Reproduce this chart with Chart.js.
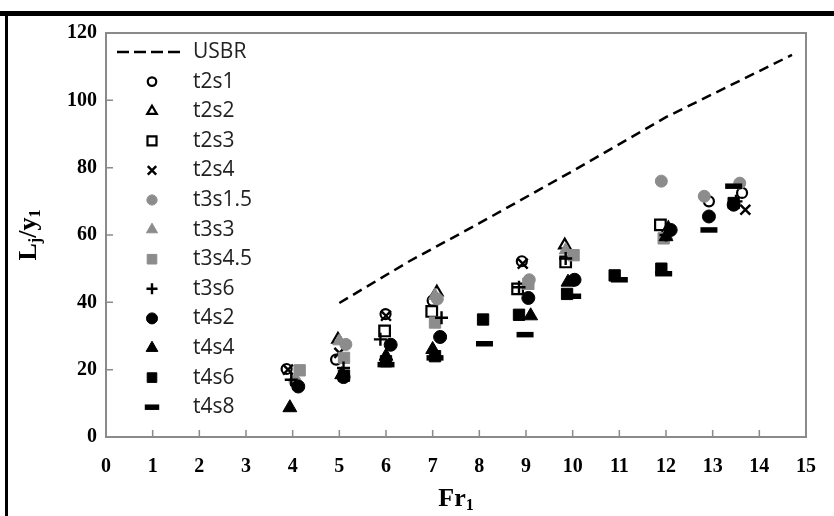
<!DOCTYPE html>
<html>
<head>
<meta charset="utf-8">
<title>Lj/y1 vs Fr1</title>
<script src="https://cdn.jsdelivr.net/npm/chart.js@4.4.0/dist/chart.umd.min.js"></script>
<style>
    html, body { margin: 0; padding: 0; background: #fff; }
    #wrap { position: relative; width: 834px; height: 516px; }
    #frameTop { position: absolute; left: 0; top: 11px; width: 834px; height: 5px; background: #000; }
    #frameLeft { position: absolute; left: 5px; top: 11px; width: 3px; height: 505px; background: #000; }
</style>
</head>
<body>
<div id="wrap">
    <canvas id="chart" width="834" height="516"></canvas>
    <div id="frameTop"></div>
    <div id="frameLeft"></div>
</div>
<script>
// Data
const usbrFr = [5.0, 6.5, 8.0, 10.0, 12.0, 14.7];
const usbrL  = [39.8, 52.2, 63.5, 79.0, 95.0, 113.5];

const t2s1Fr = [3.87, 4.93, 5.99, 7.0, 8.91, 12.92, 13.63];
const t2s1L  = [20.2, 23.0, 36.5, 40.5, 52.2, 70.0, 72.5];
const t2s2Fr = [4.97, 7.09, 9.83, 12.05];
const t2s2L  = [29.0, 43.0, 57.0, 62.0];
const t2s3Fr = [5.97, 6.98, 8.82, 9.85, 11.88];
const t2s3L  = [31.5, 37.3, 44.0, 52.0, 63.0];
const t2s4Fr = [3.9, 5.0, 6.0, 8.93, 13.7];
const t2s4L  = [20.0, 25.0, 36.0, 51.5, 67.5];

const t3s15Fr = [4.05, 5.14, 7.1, 9.07, 11.9, 12.82, 13.58];
const t3s15L  = [16.5, 27.5, 41.0, 46.7, 76.0, 71.5, 75.4];
const t3s3Fr  = [5.0, 7.05, 9.85, 12.0];
const t3s3L   = [28.5, 42.0, 55.5, 60.0];
const t3s45Fr = [4.15, 5.1, 7.05, 9.05, 10.02, 11.95];
const t3s45L  = [19.8, 23.5, 34.0, 45.5, 54.0, 59.0];
const t3s6Fr  = [3.97, 5.09, 5.88, 7.19, 8.85, 9.85, 12.0, 13.5];
const t3s6L   = [17.0, 20.5, 29.0, 35.4, 44.5, 53.0, 60.0, 70.0];

const t4s2Fr = [4.12, 5.09, 6.1, 7.16, 9.05, 10.04, 12.1, 12.92, 13.45];
const t4s2L  = [15.0, 17.8, 27.4, 29.7, 41.3, 46.7, 61.5, 65.5, 69.0];
const t4s4Fr = [3.94, 5.05, 6.0, 7.0, 9.1, 9.9, 12.0];
const t4s4L  = [8.7, 18.5, 24.0, 26.0, 36.0, 46.0, 59.5];
const t4s6Fr = [5.1, 6.0, 7.05, 8.08, 8.85, 9.88, 10.9, 11.9, 13.45];
const t4s6L  = [18.2, 22.5, 24.0, 34.9, 36.3, 42.5, 48.0, 50.0, 69.5];
const t4s8Fr = [6.0, 7.05, 8.11, 8.98, 10.0, 11.0, 11.95, 12.92, 13.45];
const t4s8L  = [21.5, 23.5, 27.7, 30.4, 41.8, 46.7, 48.5, 61.5, 74.5];

const xMin = 0, xMax = 15, xStep = 1;
const yMin = 0, yMax = 120, yStep = 20;

const GREY = '#8c8c8c';
const NONE = 'rgba(0,0,0,0)';
const TICK_FONT = "'Liberation Serif', 'Times New Roman', serif";

function pts(xs, ys) {
    return xs.map((x, i) => ({ x: x, y: ys[i] }));
}

function series(label, xs, ys, style, radius, fill, stroke, width) {
    return {
        label: label,
        data: pts(xs, ys),
        pointStyle: style,
        pointRadius: radius,
        pointHoverRadius: radius,
        pointBackgroundColor: fill,
        pointBorderColor: stroke,
        pointBorderWidth: width,
        showLine: false
    };
}

const datasets = [
    {
        label: 'USBR',
        data: pts(usbrFr, usbrL),
        showLine: true,
        borderColor: '#000',
        borderWidth: 2.5,
        borderDash: [10, 6],
        pointRadius: 0,
        fill: false
    },
    series('t2s1', t2s1Fr, t2s1L, 'circle', 5, NONE, '#000', 2.2),
    series('t2s2', t2s2Fr, t2s2L, 'triangle', 6.5, NONE, '#000', 2.2),
    series('t2s3', t2s3Fr, t2s3L, 'rect', 7.5, NONE, '#000', 2.2),
    series('t2s4', t2s4Fr, t2s4L, 'crossRot', 7, NONE, '#000', 2.4),
    series('t3s1.5', t3s15Fr, t3s15L, 'circle', 6, GREY, GREY, 1),
    series('t3s3', t3s3Fr, t3s3L, 'triangle', 7.5, GREY, GREY, 1),
    series('t3s4.5', t3s45Fr, t3s45L, 'rect', 8, GREY, GREY, 1),
    series('t3s6', t3s6Fr, t3s6L, 'cross', 6.5, NONE, '#000', 2.4),
    series('t4s2', t4s2Fr, t4s2L, 'circle', 6.5, '#000', '#000', 1),
    series('t4s4', t4s4Fr, t4s4L, 'triangle', 8, '#000', '#000', 1),
    series('t4s6', t4s6Fr, t4s6L, 'rect', 8, '#000', '#000', 1),
    series('t4s8', t4s8Fr, t4s8L, 'line', 8.5, '#000', '#000', 5.5)
];
// later series on top, like the spreadsheet original
datasets.forEach((ds, i) => { ds.order = -i; });

// Legend drawn inside the plot area, top left
const sideLegend = {
    id: 'sideLegend',
    afterDraw(chart) {
        const { ctx, chartArea } = chart;
        const markX = chartArea.left + 46;
        const textX = chartArea.left + 87;
        ctx.save();
        chart.data.datasets.forEach((ds, i) => {
            const y = chartArea.top + 19 + i * 29.6;
            if (ds.showLine) {
                ctx.strokeStyle = ds.borderColor;
                ctx.lineWidth = ds.borderWidth;
                ctx.setLineDash([12, 5]);
                ctx.beginPath();
                ctx.moveTo(chartArea.left + 11, y);
                ctx.lineTo(chartArea.left + 74, y);
                ctx.stroke();
                ctx.setLineDash([]);
            } else {
                ctx.fillStyle = ds.pointBackgroundColor;
                ctx.strokeStyle = ds.pointBorderColor;
                ctx.lineWidth = ds.pointBorderWidth;
                Chart.helpers.drawPoint(ctx, {
                    pointStyle: ds.pointStyle,
                    radius: ds.pointRadius * 0.85,
                    borderWidth: ds.pointBorderWidth,
                    rotation: 0
                }, markX, y);
            }
            ctx.fillStyle = '#222';
            ctx.font = "21px 'Open Sans', sans-serif";
            ctx.textAlign = 'left';
            ctx.textBaseline = 'middle';
            ctx.fillText(ds.label, textX, y);
        });
        ctx.restore();
    }
};

// frame, inward tick marks and axis titles with subscripts
function subText(ctx, parts, size) {
    let w = 0;
    parts.forEach(p => {
        ctx.font = 'bold ' + (p[1] ? size * 0.62 : size) + 'px ' + TICK_FONT;
        w += ctx.measureText(p[0]).width;
    });
    let x = -w / 2;
    parts.forEach(p => {
        ctx.font = 'bold ' + (p[1] ? size * 0.62 : size) + 'px ' + TICK_FONT;
        ctx.fillText(p[0], x, p[1] ? size * 0.28 : 0);
        x += ctx.measureText(p[0]).width;
    });
}

const frameAndTitles = {
    id: 'frameAndTitles',
    afterDraw(chart) {
        const { ctx, chartArea } = chart;
        const xs = chart.scales.x, ys = chart.scales.y;
        ctx.save();
        ctx.strokeStyle = '#8a8a8a';
        ctx.lineWidth = 2;
        ctx.strokeRect(chartArea.left, chartArea.top, chartArea.right - chartArea.left, chartArea.bottom - chartArea.top);
        ctx.lineWidth = 1.5;
        ctx.beginPath();
        xs.ticks.forEach((t, i) => {
            const px = xs.getPixelForTick(i);
            ctx.moveTo(px, chartArea.bottom);
            ctx.lineTo(px, chartArea.bottom - 7);
        });
        ys.ticks.forEach((t, i) => {
            const py = ys.getPixelForTick(i);
            ctx.moveTo(chartArea.left, py);
            ctx.lineTo(chartArea.left + 7, py);
        });
        ctx.stroke();

        ctx.fillStyle = '#000';
        ctx.textAlign = 'left';
        ctx.textBaseline = 'middle';
        ctx.translate((chartArea.left + chartArea.right) / 2, 499);
        subText(ctx, [['Fr', false], ['1', true]], 26);
        ctx.setTransform(1, 0, 0, 1, 0, 0);
        ctx.translate(29, (chartArea.top + chartArea.bottom) / 2);
        ctx.rotate(-Math.PI / 2);
        subText(ctx, [['L', false], ['j', true], ['/y', false], ['1', true]], 26);
        ctx.restore();
    }
};

new Chart(document.getElementById('chart'), {
    type: 'scatter',
    data: { datasets: datasets },
    options: {
        responsive: false,
        devicePixelRatio: 1,
        animation: false,
        layout: { padding: { top: 33, right: 23, left: 0, bottom: 0 } },
        plugins: {
            legend: { display: false },
            tooltip: { enabled: false }
        },
        scales: {
            x: {
                type: 'linear',
                min: xMin,
                max: xMax,
                grid: { display: false, drawTicks: false },
                border: { display: false },
                ticks: {
                    stepSize: xStep,
                    padding: 18,
                    color: '#000',
                    font: { family: TICK_FONT, size: 20, weight: 'bold' }
                },
                afterFit(scale) { scale.height = 79; }
            },
            y: {
                type: 'linear',
                min: yMin,
                max: yMax,
                grid: { display: false, drawTicks: false },
                border: { display: false },
                ticks: {
                    stepSize: yStep,
                    padding: 9,
                    color: '#000',
                    font: { family: TICK_FONT, size: 20, weight: 'bold' }
                },
                afterFit(scale) { scale.width = 106; }
            }
        }
    },
    plugins: [sideLegend, frameAndTitles]
});
</script>
</body>
</html>
